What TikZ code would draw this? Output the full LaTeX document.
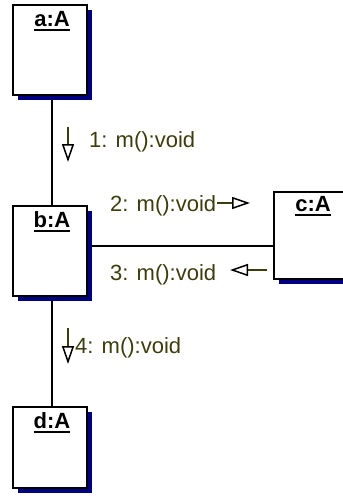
\documentclass[tikz,border=0pt]{standalone}
\usepackage{fontspec}
\setmainfont{Liberation Sans}
\usepackage{tikz}
\usetikzlibrary{arrows.meta,shadows,backgrounds}
\definecolor{shadowblue}{HTML}{000080}
\definecolor{msgtext}{HTML}{3C3C0C}
\newcommand{\objname}[1]{\setbox0=\hbox{#1}\leavevmode\rlap{\rule[-4.5pt]{\wd0}{1.5pt}}\box0}

\begin{document}
\begin{tikzpicture}[x=1pt,y=-1pt,
  objbox/.style={draw=black,fill=white,line width=1.2pt,inner sep=0pt,
                 minimum width=74pt,minimum height=90pt,
                 general shadow={fill=shadowblue,shadow xshift=5pt,shadow yshift=-5pt}},
  objtitle/.style={anchor=base,inner sep=0pt,font=\fontsize{22}{26}\selectfont\bfseries},
  msglabel/.style={anchor=base west,inner sep=0pt,text=msgtext,
                   font=\fontsize{22}{26}\selectfont},
  link/.style={draw=black,line width=1.2pt},
  msgarrow/.style={draw=msgtext,line width=1.2pt,
                   -{Triangle[open,length=18pt,width=12pt,color=black,line width=1.5pt]}}
]
\clip (0,0) rectangle (343,499);

% Objekte
\node[objbox] (a) at (50,50) {};
\node[objbox] (b) at (50,251) {};
\node[objbox,minimum height=87pt] (c) at (311,235.5) {};
\node[objbox,minimum height=81pt] (d) at (50,447.5) {};

\node[objtitle] (at) at ([xshift=2pt,yshift=-22pt]a.north) {\objname{a:A}};
\node[objtitle] (bt) at ([xshift=2pt,yshift=-22pt]b.north) {\objname{b:A}};
\node[objtitle] (ct) at ([xshift=2pt,yshift=-20pt]c.north) {\objname{c:A}};
\node[objtitle] (dt) at ([xshift=2pt,yshift=-22pt]d.north) {\objname{d:A}};

% Verbindungen
\begin{pgfonlayer}{background}
  \draw[link] ([xshift=2pt]a.center) -- ([xshift=2pt]b.center);
  \draw[link] ([xshift=2pt]b.center) -- ([xshift=2pt]d.center);
  \draw[link] ([yshift=5pt]b.center) -- ([yshift=5pt]b.center -| c.center);
\end{pgfonlayer}

% Nachrichten
\node[msglabel] (m1) at (89,147) {1: m():void};
\node[msglabel] (m2) at (110,211) {2: m():void};
\node[msglabel] (m3) at (110,280) {3: m():void};
\node[msglabel] (m4) at (75,353) {4: m():void};

\coordinate (m1s) at (68,127);
\coordinate (m1e) at (68,162);
\coordinate (m2s) at (217,203);
\coordinate (m2e) at (250,203);
\coordinate (m3s) at (267,270);
\coordinate (m3e) at (230,270);
\coordinate (m4s) at (68,328);
\coordinate (m4e) at (68,364);

\draw[msgarrow] (m1s) -- (m1e);
\draw[msgarrow] (m2s) -- (m2e);
\draw[msgarrow] (m3s) -- (m3e);
\draw[msgarrow] (m4s) -- (m4e);

\end{tikzpicture}
\end{document}
